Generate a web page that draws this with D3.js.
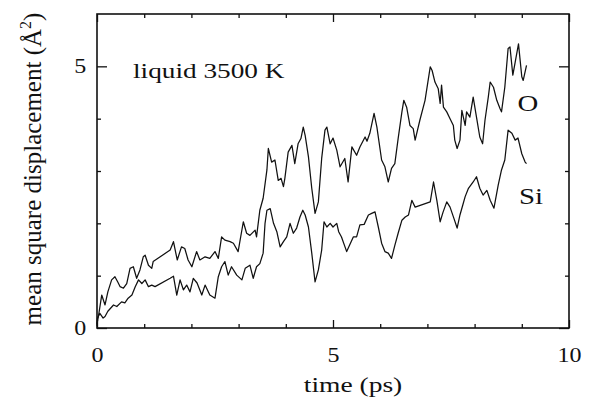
<!DOCTYPE html>
<html>
<head>
<meta charset="utf-8">
<script src="https://cdn.jsdelivr.net/npm/d3@7"></script>
<style>
    body { margin: 0; background: #fff; }
    .curve { fill: none; stroke: #111; stroke-width: 1.25; stroke-linejoin: round; }
</style>
</head>
<body>
<div id="msd"></div>
<script>
// values: [time (ps), msd (A^2)]
var oPoints = [
    [0.00,0.08],[0.03,0.22],[0.10,0.63],[0.17,0.44],[0.23,0.69],[0.31,0.92],[0.38,0.98],[0.44,0.88],
    [0.49,0.79],[0.56,0.76],[0.63,0.85],[0.70,1.14],[0.77,1.17],[0.84,0.95],[0.91,1.11],[0.98,1.36],
    [1.02,1.39],[1.09,1.20],[1.16,1.14],[1.19,1.27],[1.55,1.49],[1.62,1.65],[1.70,1.30],[1.79,1.55],
    [1.86,1.52],[1.93,1.30],[2.01,1.17],[2.11,1.46],[2.18,1.30],[2.29,1.36],[2.39,1.33],[2.50,1.46],
    [2.57,1.33],[2.64,1.74],[2.71,1.68],[2.82,1.65],[2.89,1.62],[2.99,1.46],[3.10,2.03],[3.17,1.81],
    [3.24,1.77],[3.35,1.87],[3.38,1.74],[3.45,2.25],[3.52,2.48],[3.60,3.02],[3.63,3.43],[3.70,3.17],
    [3.77,3.21],[3.84,2.82],[3.90,2.86],[3.95,2.70],[3.98,2.86],[4.05,3.36],[4.13,3.49],[4.19,3.14],
    [4.26,3.52],[4.32,3.62],[4.37,3.84],[4.41,3.68],[4.48,3.27],[4.55,2.67],[4.62,2.19],[4.69,2.41],
    [4.76,3.24],[4.83,3.78],[4.87,3.84],[4.94,3.52],[5.00,3.63],[5.08,3.40],[5.15,3.08],[5.25,3.24],
    [5.32,2.79],[5.40,3.46],[5.50,3.30],[5.57,3.46],[5.68,3.65],[5.72,3.57],[5.78,3.72],[5.87,4.10],
    [5.93,3.84],[6.03,3.21],[6.10,3.08],[6.17,2.79],[6.24,3.05],[6.31,3.14],[6.38,3.62],[6.46,4.13],
    [6.50,4.35],[6.56,4.22],[6.63,3.87],[6.70,3.81],[6.74,3.59],[6.84,3.97],[6.95,4.35],[7.06,4.99],
    [7.10,4.92],[7.16,4.70],[7.23,4.57],[7.27,4.29],[7.30,4.64],[7.34,4.22],[7.41,4.13],[7.48,4.00],
    [7.55,3.87],[7.58,3.59],[7.63,3.43],[7.69,3.59],[7.73,4.16],[7.80,3.87],[7.83,4.13],[7.90,4.03],
    [7.97,4.41],[8.04,4.03],[8.11,3.65],[8.17,3.52],[8.22,3.97],[8.29,4.41],[8.33,4.70],[8.40,4.60],
    [8.47,4.35],[8.54,4.19],[8.57,4.13],[8.64,4.60],[8.71,5.34],[8.75,5.37],[8.81,4.83],[8.86,5.08],
    [8.93,5.43],[9.00,4.80],[9.03,4.73],[9.10,5.02]
];

var siPoints = [
    [0.00,0.04],[0.01,0.19],[0.06,0.28],[0.13,0.19],[0.17,0.22],[0.23,0.32],[0.35,0.44],[0.42,0.41],
    [0.52,0.50],[0.59,0.48],[0.66,0.57],[0.74,0.63],[0.81,0.79],[0.88,0.92],[0.95,0.85],[1.02,0.92],
    [1.09,0.79],[1.16,0.82],[1.23,0.79],[1.55,0.95],[1.62,0.99],[1.69,0.63],[1.76,0.92],[1.83,0.73],
    [1.90,0.82],[1.97,0.69],[2.04,0.95],[2.12,0.86],[2.22,0.63],[2.29,0.82],[2.39,0.63],[2.50,0.57],
    [2.57,0.98],[2.64,1.17],[2.71,1.27],[2.78,1.01],[2.85,1.17],[2.96,1.01],[3.07,0.92],[3.14,1.14],
    [3.24,1.20],[3.31,0.95],[3.38,1.17],[3.45,1.23],[3.52,1.43],[3.56,2.00],[3.60,2.25],[3.67,2.28],
    [3.74,2.00],[3.81,1.84],[3.88,1.55],[3.95,1.65],[4.02,1.74],[4.09,2.00],[4.16,1.81],[4.23,1.91],
    [4.30,2.12],[4.36,2.25],[4.41,2.16],[4.48,1.93],[4.55,1.43],[4.62,0.88],[4.69,1.11],[4.76,1.49],
    [4.81,2.03],[4.87,1.93],[4.94,2.00],[5.00,1.93],[5.08,2.00],[5.12,1.84],[5.18,1.74],[5.29,1.46],
    [5.36,1.60],[5.43,1.74],[5.50,1.74],[5.57,1.97],[5.66,1.98],[5.75,2.16],[5.82,2.19],[5.89,2.22],
    [5.96,1.93],[6.03,1.62],[6.10,1.46],[6.17,1.43],[6.24,1.33],[6.31,1.58],[6.38,1.81],[6.46,2.06],
    [6.53,2.12],[6.60,2.16],[6.67,2.44],[6.74,2.31],[7.06,2.41],[7.13,2.79],[7.20,2.44],[7.27,2.03],
    [7.33,2.21],[7.41,2.41],[7.48,2.31],[7.56,2.10],[7.63,1.91],[7.69,2.16],[7.75,2.35],[7.80,2.51],
    [7.87,2.67],[7.97,2.79],[8.04,2.89],[8.11,2.67],[8.18,2.54],[8.26,2.63],[8.33,2.44],[8.41,2.29],
    [8.50,2.73],[8.57,3.02],[8.64,3.21],[8.71,3.78],[8.79,3.72],[8.86,3.59],[8.92,3.63],[9.00,3.33],
    [9.07,3.17],[9.10,3.14]
];

var xMajor = [0, 5, 10];
var xMinor = [1, 2, 3, 4, 6, 7, 8, 9];
var yMajor = [0, 5];
var yMinor = [1, 2, 3, 4];

var SERIF = "'Liberation Serif', 'Times New Roman', Times, serif";

MsdPlot = function(_parentElement) {
    this.parentElement = _parentElement;
    this.initVis();
};

MsdPlot.prototype.initVis = function() {
    var vis = this;

    vis.margin = {top: 14, right: 21, bottom: 74, left: 97};
    vis.width = 590 - vis.margin.left - vis.margin.right;
    vis.height = 402 - vis.margin.top - vis.margin.bottom;

    vis.svg = d3.select("#" + vis.parentElement).append("svg")
        .attr("width", 590)
        .attr("height", 402);

    vis.g = vis.svg.append("g")
        .attr("transform", "translate(" + vis.margin.left + "," + vis.margin.top + ")");

    vis.x = d3.scaleLinear().domain([0, 10]).range([0, vis.width]);
    vis.y = d3.scaleLinear().domain([0, 6]).range([vis.height, 0]);

    var fmt = d3.format("d");

    // inward ticks on all four sides, majors longer
    vis.addAxis(d3.axisBottom(vis.x).tickValues(xMajor).tickSize(-8).tickPadding(20).tickFormat(fmt), "translate(0," + vis.height + ")", true);
    vis.addAxis(d3.axisBottom(vis.x).tickValues(xMinor).tickSize(-4).tickFormat(""), "translate(0," + vis.height + ")");
    vis.addAxis(d3.axisTop(vis.x).tickValues(xMajor).tickSize(-8).tickFormat(""), "translate(0,0)");
    vis.addAxis(d3.axisTop(vis.x).tickValues(xMinor).tickSize(-4).tickFormat(""), "translate(0,0)");
    vis.addAxis(d3.axisLeft(vis.y).tickValues(yMajor).tickSize(-10).tickPadding(9).tickFormat(fmt), "translate(0,0)", true);
    vis.addAxis(d3.axisLeft(vis.y).tickValues(yMinor).tickSize(-4).tickFormat(""), "translate(0,0)");
    vis.addAxis(d3.axisRight(vis.y).tickValues(yMajor).tickSize(-10).tickFormat(""), "translate(" + vis.width + ",0)");
    vis.addAxis(d3.axisRight(vis.y).tickValues(yMinor).tickSize(-4).tickFormat(""), "translate(" + vis.width + ",0)");

    vis.g.append("rect")
        .attr("width", vis.width)
        .attr("height", vis.height)
        .attr("fill", "none")
        .attr("stroke", "#111")
        .attr("stroke-width", 1.6);

    vis.line = d3.line()
        .x(function(d) { return vis.x(d[0]); })
        .y(function(d) { return vis.y(d[1]); });

    // labels (the scanned figure is a bit wider than tall, hence the stretch)
    vis.label("liquid 3500 K", 133 - vis.margin.left, 78 - vis.margin.top, 22, 1.24, "start");
    vis.label("O", 528 - vis.margin.left, 111 - vis.margin.top, 24, 1.2, "middle");
    vis.label("Si", 531 - vis.margin.left, 204 - vis.margin.top, 24, 1.2, "middle");
    vis.label("time (ps)", 353 - vis.margin.left, 392 - vis.margin.top, 22, 1.25, "middle");

    var yl = vis.svg.append("text")
        .attr("transform", "translate(41,169) rotate(-90)")
        .attr("text-anchor", "middle")
        .attr("font-family", SERIF)
        .attr("font-size", 25)
        .attr("fill", "#111");
    yl.append("tspan").text("mean square displacement (Å");
    yl.append("tspan").attr("font-size", 16).attr("dy", -10).text("2");
    yl.append("tspan").attr("dy", 10).text(")");
};

MsdPlot.prototype.addAxis = function(axis, transform, withText) {
    var vis = this;
    var a = vis.g.append("g")
        .attr("class", "axis")
        .attr("transform", transform)
        .call(axis);
    a.select(".domain").remove();
    a.selectAll("line").attr("stroke", "#111").attr("stroke-width", 1.3);
    if (withText) {
        a.selectAll("text")
            .attr("font-family", SERIF)
            .attr("font-size", 20)
            .attr("fill", "#111")
            .attr("transform", "scale(1.2,1)");
    }
};

MsdPlot.prototype.label = function(txt, x, y, size, stretch, anchor) {
    var vis = this;
    vis.g.append("text")
        .attr("transform", "translate(" + x + "," + y + ") scale(" + stretch + ",1)")
        .attr("text-anchor", anchor)
        .attr("font-family", SERIF)
        .attr("font-size", size)
        .attr("fill", "#111")
        .text(txt);
};

MsdPlot.prototype.updateVis = function(series) {
    var vis = this;
    vis.g.selectAll(".curve")
        .data(series)
        .enter()
        .append("path")
        .attr("class", "curve")
        .attr("d", vis.line);
};

var plot = new MsdPlot("msd");
plot.updateVis([oPoints, siPoints]);
</script>
</body>
</html>
